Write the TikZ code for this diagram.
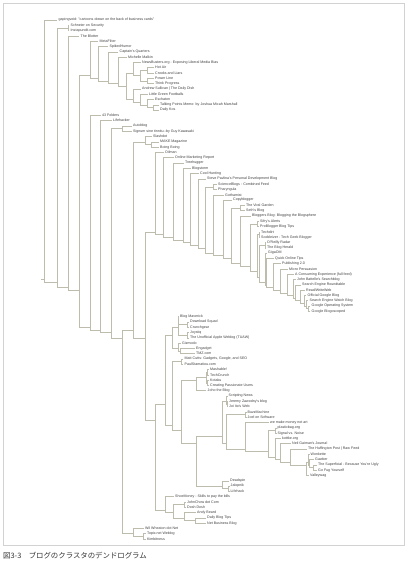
\documentclass[tikz,border=0pt]{standalone}
\usepackage{fontspec}
\newfontfamily\lbf{Liberation Sans}
\newfontfamily\cjk{Noto Sans CJK JP}
\tikzset{
  dl/.style={draw={rgb,255:red,190;green,188;blue,172}, line width=0.45pt},
  lb/.style={anchor=west, inner sep=0pt, font=\lbf\fontsize{3.6}{4}\selectfont, text=black!75},
}
% internal node: #1 x of vertical, leaves #2..#3 top child, #3+1..#4 bottom child, #5 x of children
\newcommand\nd[5]{\draw[dl] (#5,{14.704+2.648*#2+2.648*#3}) -- (#1,{14.704+2.648*#2+2.648*#3}) -- (#1,{17.352+2.648*#3+2.648*#4}) -- (#5,{17.352+2.648*#3+2.648*#4});}
\newcommand\lf[3]{\node[lb] (L#1) at ({#2+1.5},{14.704+5.296*#1}) {#3};}
\begin{document}
\begin{tikzpicture}[x=1pt,y=-1pt]
\useasboundingbox (0,0) rectangle (407,569);
\draw[gray!35, line width=0.5pt] (3,3) rectangle (404,545);
% root stub
\draw[dl] (41,279.5) -- (44,279.5);
\nd{44}{1}{1}{99}{57}
\nd{57}{2}{3}{99}{68}
\nd{68}{2}{2}{3}{69}
\nd{68}{4}{4}{99}{79}
\nd{79}{5}{18}{99}{90}
\nd{90}{5}{5}{18}{98}
\nd{98}{6}{6}{18}{108}
\nd{108}{7}{7}{18}{118}
\nd{118}{8}{8}{18}{126.5}
\nd{126.5}{9}{13}{18}{133}
\nd{133}{9}{9}{13}{140.5}
\nd{140.5}{10}{11}{13}{147}
\nd{147}{10}{10}{11}{153.5}
\nd{147}{12}{12}{13}{153.5}
\nd{133}{14}{14}{18}{140.5}
\nd{140.5}{15}{15}{18}{147.5}
\nd{147.5}{16}{16}{18}{153.5}
\nd{153.5}{17}{17}{18}{158.5}
\nd{90}{19}{19}{99}{100.5}
\nd{100.5}{20}{20}{99}{111.5}
\nd{111.5}{21}{22}{99}{122.5}
\nd{122.5}{21}{21}{22}{131.5}
\nd{122.5}{23}{96}{99}{133}
\nd{133}{97}{97}{99}{143.5}
\nd{143.5}{98}{98}{99}{145.5}
\nd{133}{23}{25}{96}{145}
\nd{145}{23}{23}{25}{151.5}
\nd{151.5}{24}{24}{25}{158.5}
\nd{145}{26}{56}{96}{155}
\nd{155}{26}{26}{56}{163.5}
\nd{163.5}{27}{27}{56}{173.5}
\nd{173.5}{28}{28}{56}{183.5}
\nd{183.5}{29}{29}{56}{190.5}
\nd{190.5}{30}{30}{56}{198.5}
\nd{198.5}{31}{31}{56}{205.5}
\nd{205.5}{32}{33}{56}{213}
\nd{213}{32}{32}{33}{216.5}
\nd{213}{34}{34}{56}{223.5}
\nd{223.5}{35}{35}{56}{231.5}
\nd{231.5}{36}{37}{56}{240}
\nd{240}{36}{36}{37}{244.5}
\nd{240}{38}{38}{56}{250.5}
\nd{250.5}{39}{40}{56}{257.5}
\nd{257.5}{39}{39}{40}{258.5}
\nd{257.5}{41}{42}{56}{259}
\nd{259}{41}{41}{42}{259.5}
\nd{259}{43}{44}{56}{265}
\nd{265}{43}{43}{44}{265.5}
\nd{265}{45}{45}{56}{266.5}
\nd{266.5}{46}{46}{56}{273.5}
\nd{273.5}{47}{47}{56}{280.5}
\nd{280.5}{48}{48}{56}{287.5}
\nd{287.5}{49}{49}{56}{293.5}
\nd{293.5}{50}{50}{56}{295.5}
\nd{295.5}{51}{51}{56}{300.5}
\nd{300.5}{52}{52}{56}{304.5}
\nd{304.5}{53}{53}{56}{306}
\nd{306}{54}{54}{56}{308}
\nd{308}{55}{55}{56}{310}
\nd{155}{57}{90}{96}{165}
\nd{165}{91}{91}{96}{173.5}
\nd{173.5}{92}{93}{96}{184.5}
\nd{184.5}{92}{92}{93}{185.5}
\nd{184.5}{94}{94}{96}{195.5}
\nd{195.5}{95}{95}{96}{205.5}
\nd{165}{57}{64}{90}{172}
\nd{172}{57}{61}{64}{178}
\nd{178}{57}{57}{61}{178.5}
\nd{178.5}{58}{59}{61}{187}
\nd{187}{58}{58}{59}{188.5}
\nd{187}{60}{60}{61}{188.5}
\nd{178}{62}{62}{64}{180.5}
\nd{180.5}{63}{63}{64}{194.5}
\nd{172}{65}{66}{90}{181}
\nd{181}{65}{65}{66}{183}
\nd{181}{67}{71}{90}{196}
\nd{196}{67}{70}{71}{206}
\nd{206}{67}{68}{70}{207.5}
\nd{207.5}{67}{67}{68}{208.5}
\nd{207.5}{69}{69}{70}{208.5}
\nd{196}{72}{87}{90}{222}
\nd{222}{88}{88}{90}{228.5}
\nd{228.5}{89}{89}{90}{229}
\nd{222}{72}{74}{87}{226.5}
\nd{226.5}{72}{72}{74}{227}
\nd{227}{73}{73}{74}{227.5}
\nd{226.5}{75}{76}{87}{245.5}
\nd{245.5}{75}{75}{76}{246}
\nd{245.5}{77}{77}{87}{268.5}
\nd{268.5}{78}{79}{87}{275.5}
\nd{275.5}{78}{78}{79}{276}
\nd{275.5}{80}{80}{87}{280.5}
\nd{280.5}{81}{81}{87}{290.5}
\nd{290.5}{82}{82}{87}{306.5}
\nd{306.5}{83}{86}{87}{308.5}
\nd{308.5}{83}{83}{86}{309}
\nd{309}{84}{84}{86}{313.5}
\nd{313.5}{85}{85}{86}{316.5}
% leaves
\lf{1}{57}{gapingvoid: "cartoons drawn on the back of business cards"}
\lf{2}{69}{Schneier on Security}
\lf{3}{69}{Instapundit.com}
\lf{4}{79}{The Blotter}
\lf{5}{98}{MetaFilter}
\lf{6}{108}{SpikedHumor}
\lf{7}{118}{Captain's Quarters}
\lf{8}{126.5}{Michelle Malkin}
\lf{9}{140.5}{NewsBusters.org - Exposing Liberal Media Bias}
\lf{10}{153.5}{Hot Air}
\lf{11}{153.5}{Crooks and Liars}
\lf{12}{153.5}{Power Line}
\lf{13}{153.5}{Think Progress}
\lf{14}{140.5}{Andrew Sullivan | The Daily Dish}
\lf{15}{147.5}{Little Green Footballs}
\lf{16}{153.5}{Eschaton}
\lf{17}{158.5}{Talking Points Memo: by Joshua Micah Marshall}
\lf{18}{158.5}{Daily Kos}
\lf{19}{100.5}{43 Folders}
\lf{20}{111.5}{Lifehacker}
\lf{21}{131.5}{Autoblog}
\lf{22}{131.5}{Signum sine tinnitu-{}-by Guy Kawasaki}
\lf{23}{151.5}{Slashdot}
\lf{24}{158.5}{MAKE Magazine}
\lf{25}{158.5}{Boing Boing}
\lf{26}{163.5}{Oilman}
\lf{27}{173.5}{Online Marketing Report}
\lf{28}{183.5}{Treehugger}
\lf{29}{190.5}{Blogstorm}
\lf{30}{198.5}{Cool Hunting}
\lf{31}{205.5}{Steve Pavlina's Personal Development Blog}
\lf{32}{216.5}{ScienceBlogs : Combined Feed}
\lf{33}{216.5}{Pharyngula}
\lf{34}{223.5}{Gothamist}
\lf{35}{231.5}{Copyblogger}
\lf{36}{244.5}{The Viral Garden}
\lf{37}{244.5}{Seth's Blog}
\lf{38}{250.5}{Bloggers Blog: Blogging the Blogsphere}
\lf{39}{258.5}{Sifry's Alerts}
\lf{40}{258.5}{ProBlogger Blog Tips}
\lf{41}{259.5}{Techdirt}
\lf{42}{259.5}{Scobleizer - Tech Geek Blogger}
\lf{43}{265.5}{O'Reilly Radar}
\lf{44}{265.5}{The Blog Herald}
\lf{45}{266.5}{GigaOM}
\lf{46}{273.5}{Quick Online Tips}
\lf{47}{280.5}{Publishing 2.0}
\lf{48}{287.5}{Micro Persuasion}
\lf{49}{293.5}{A Consuming Experience (full feed)}
\lf{50}{295.5}{John Battelle's Searchblog}
\lf{51}{300.5}{Search Engine Roundtable}
\lf{52}{304.5}{Read/WriteWeb}
\lf{53}{306}{Official Google Blog}
\lf{54}{308}{Search Engine Watch Blog}
\lf{55}{310}{Google Operating System}
\lf{56}{310}{Google Blogoscoped}
\lf{57}{178.5}{Blog Maverick}
\lf{58}{188.5}{Download Squad}
\lf{59}{188.5}{Crunchgear}
\lf{60}{188.5}{Joystiq}
\lf{61}{188.5}{The Unofficial Apple Weblog (TUAW)}
\lf{62}{180.5}{Gizmodo}
\lf{63}{194.5}{Engadget}
\lf{64}{194.5}{TMZ.com}
\lf{65}{183}{Matt Cutts: Gadgets, Google, and SEO}
\lf{66}{183}{PaulStamatiou.com}
\lf{67}{208.5}{Mashable!}
\lf{68}{208.5}{TechCrunch}
\lf{69}{208.5}{Kotaku}
\lf{70}{208.5}{Creating Passionate Users}
\lf{71}{206}{Joho the Blog}
\lf{72}{227}{Scripting News}
\lf{73}{227.5}{Jeremy Zawodny's blog}
\lf{74}{227.5}{Joi Ito's Web}
\lf{75}{246}{BuzzMachine}
\lf{76}{246}{Joel on Software}
\lf{77}{268.5}{we make money not art}
\lf{78}{276}{plasticbag.org}
\lf{79}{276}{Signal vs. Noise}
\lf{80}{280.5}{kottke.org}
\lf{81}{290.5}{Neil Gaiman's Journal}
\lf{82}{306.5}{The Huffington Post | Raw Feed}
\lf{83}{309}{Wonkette}
\lf{84}{313.5}{Gawker}
\lf{85}{316.5}{The Superficial - Because You're Ugly}
\lf{86}{316.5}{Go Fug Yourself}
\lf{87}{308.5}{Valleywag}
\lf{88}{228.5}{Deadspin}
\lf{89}{229}{Jalopnik}
\lf{90}{229}{Lifehack}
\lf{91}{173.5}{ShoeMoney - Skills to pay the bills}
\lf{92}{185.5}{JohnChow dot Com}
\lf{93}{185.5}{Dosh Dosh}
\lf{94}{195.5}{Andy Beard}
\lf{95}{205.5}{Daily Blog Tips}
\lf{96}{205.5}{Net Business Blog}
\lf{97}{143.5}{Wil Wheaton dot Net}
\lf{98}{145.5}{Topix.net Weblog}
\lf{99}{145.5}{Kimbitness}
\node[anchor=base west, inner sep=0pt, font=\cjk\fontsize{7.4}{8}\selectfont, text=black!80] (cap) at (3,558) {図3-3　ブログのクラスタのデンドログラム};
\end{tikzpicture}
\end{document}
